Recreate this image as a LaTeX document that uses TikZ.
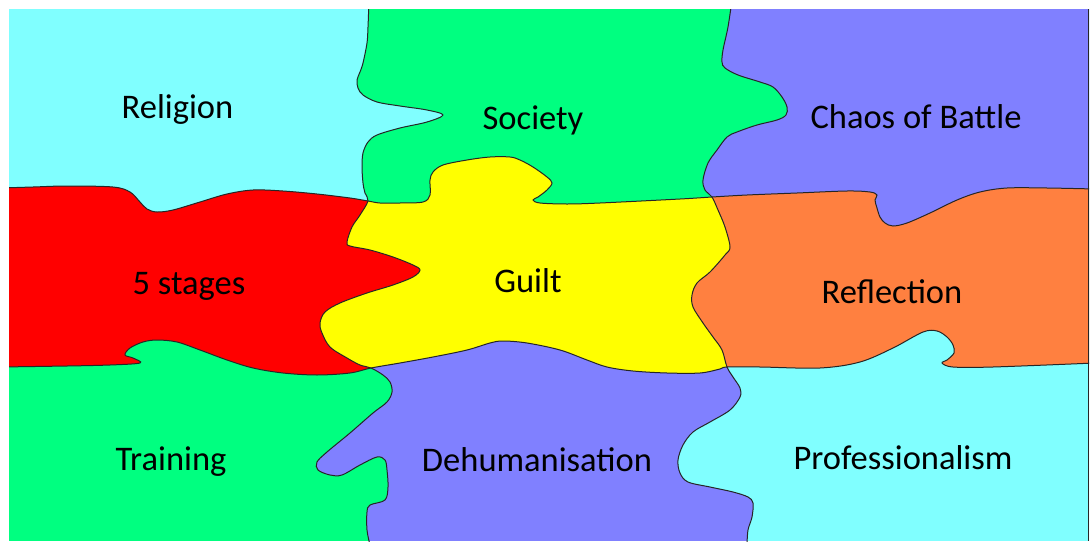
\documentclass[tikz,border=0pt]{standalone}
\usepackage{fontspec}
\setmainfont{Carlito}
\definecolor{cyanP}{HTML}{80FFFF}
\definecolor{greenP}{HTML}{00FF80}
\definecolor{blueP}{HTML}{8080FF}
\definecolor{redP}{HTML}{FF0000}
\definecolor{yellowP}{HTML}{FFFF00}
\definecolor{orangeP}{HTML}{FF8040}
\def\cutVa{plot[smooth,tension=0.55] coordinates {(369,0) (368,27) (367,43) (363,63) (360,72) (357,80) (358,88) (363,95) (377,102) (400,106) (427,110) (443,115) (427,122) (400,128) (377,135) (368,142) (363,153) (362,167) (363,183) (365,193) (368,201) (360,215) (352,227) (347,242) (350,246) (370,250) (393,257) (413,265) (420,270) (413,277) (393,285) (367,293) (340,303) (325,312) (320,323) (322,333) (330,347) (347,358) (360,365) (371,368) (383,375) (390,382) (392,392) (387,402) (373,413) (350,433) (327,452) (317,462) (318,470) (330,475) (342,475) (360,465) (377,457) (385,460) (387,470) (388,487) (385,500) (370,505) (367,512) (367,530) (370,545)}}
\def\cutVb{plot[smooth,tension=0.55] coordinates {(732,0) (728,27) (723,50) (722,62) (725,68) (738,75) (760,82) (773,87) (782,97) (787,107) (786,115) (777,120) (757,125) (737,132) (727,137) (717,150) (708,163) (703,180) (705,190) (712,197) (718,210) (725,227) (730,247) (725,255) (710,272) (697,283) (692,295) (693,307) (703,323) (713,337) (722,350) (727,367) (733,377) (740,388) (740,397) (730,410) (710,422) (693,432) (683,445) (678,460) (680,473) (688,482) (710,487) (733,492) (748,497) (753,503) (752,517) (748,530) (747,545)}}
\def\cutHa{plot[smooth,tension=0.55] coordinates {(0,188) (33,187) (67,186) (113,187) (130,192) (140,202) (147,209) (157,212) (173,210) (200,202) (227,194) (253,190) (283,191) (317,194) (350,198) (368,201) (380,203) (400,203) (423,202) (430,195) (430,180) (433,172) (443,165) (467,160) (490,157) (510,157) (520,160) (533,167) (547,177) (552,183) (547,190) (538,197) (533,200) (540,203) (567,204) (600,203) (680,199) (712,197) (747,195) (797,193) (847,191) (870,192) (877,195) (875,200) (877,208) (880,217) (885,223) (893,226) (907,223) (930,213) (957,200) (980,192) (1007,188) (1047,188) (1095,189)}}
\def\cutHb{plot[smooth,tension=0.55] coordinates {(0,367) (67,366) (110,365) (140,363) (133,358) (125,355) (130,348) (143,342) (157,340) (177,342) (200,350) (227,360) (253,368) (283,373) (317,375) (350,373) (371,368) (400,363) (433,357) (467,350) (490,343) (503,341) (527,343) (560,350) (587,360) (607,367) (633,371) (667,373) (700,373) (720,369) (727,367) (760,367) (820,368) (860,362) (893,348) (923,332) (937,331) (947,337) (953,345) (954,353) (947,360) (942,363) (953,367) (993,367) (1095,363)}}
\def\leftVa{\clip \cutVa -- (-30,570) -- (-30,-30) -- cycle;}
\def\rightVa{\clip \cutVa -- (1120,570) -- (1120,-30) -- cycle;}
\def\leftVb{\clip \cutVb -- (-30,570) -- (-30,-30) -- cycle;}
\def\rightVb{\clip \cutVb -- (1120,570) -- (1120,-30) -- cycle;}
\def\aboveHa{\clip \cutHa -- (1120,-30) -- (-30,-30) -- cycle;}
\def\belowHa{\clip \cutHa -- (1120,570) -- (-30,570) -- cycle;}
\def\aboveHb{\clip \cutHb -- (1120,-30) -- (-30,-30) -- cycle;}
\def\belowHb{\clip \cutHb -- (1120,570) -- (-30,570) -- cycle;}
\def\paint#1{\fill[#1] (0,0) rectangle (1090,541);}
\tikzset{
  seam/.style={draw=black!85, line width=1pt},
  lab/.style={anchor=base, inner sep=0pt, text=black, font=\fontsize{34.5}{40}\selectfont}
}
\begin{document}
\begin{tikzpicture}[x=1pt,y=-1pt]
\useasboundingbox (0,0) rectangle (1090,541);
\begin{scope}
\clip (9,9) rectangle (1089,541);
\paint{cyanP}
% Society
\begin{scope}\rightVa\leftVb\aboveHa\paint{greenP}\end{scope}
% Chaos of Battle
\begin{scope}\rightVb\aboveHa\paint{blueP}\end{scope}
% 5 stages
\begin{scope}\leftVa\belowHa\aboveHb\paint{redP}\end{scope}
% Guilt
\begin{scope}\rightVa\leftVb\belowHa\aboveHb\paint{yellowP}\end{scope}
% Reflection
\begin{scope}\rightVb\belowHa\aboveHb\paint{orangeP}\end{scope}
% Training
\begin{scope}\leftVa\belowHb\paint{greenP}\end{scope}
% Dehumanisation
\begin{scope}\rightVa\leftVb\belowHb\paint{blueP}\end{scope}
% seams
\draw[seam] \cutVa;
\draw[seam] \cutVb;
\draw[seam] \cutHa;
\draw[seam] \cutHb;
\draw[seam] (1088.5,9) -- (1088.5,541);
\end{scope}
\node[lab] (religion) at (177.5,118) {Religion};
\node[lab] (society) at (533,129) {Society};
\node[lab] (chaos) at (916,128) {Chaos of Battle};
\node[lab] (stages) at (189,294) {5 stages};
\node[lab] (guilt) at (528,292) {Guilt};
\node[lab] (reflection) at (892,303) {Reflection};
\node[lab] (training) at (171,470) {Training};
\node[lab] (dehum) at (537,471) {Dehumanisation};
\node[lab] (prof) at (903,469) {Professionalism};
\end{tikzpicture}
\end{document}
